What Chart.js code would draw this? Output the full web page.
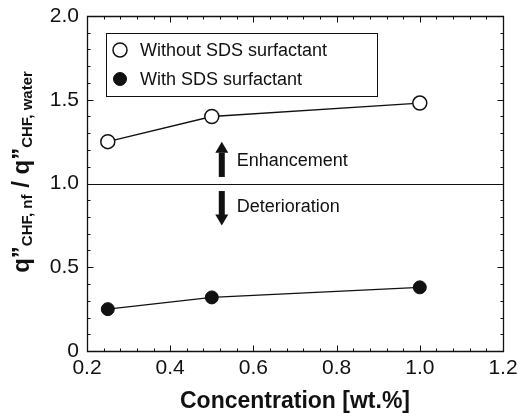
<!DOCTYPE html>
<html>
<head>
<meta charset="utf-8">
<script src="https://cdn.jsdelivr.net/npm/chart.js@4.4.1/dist/chart.umd.min.js"></script>
<style>
  html, body { margin: 0; padding: 0; background: #fff; }
  #wrap { width: 519px; height: 413px; }
</style>
</head>
<body>
<div id="wrap"><canvas id="chfChart" width="519" height="413"></canvas></div>
<script>
// concentration [wt.%]
const concentration = [0.25, 0.5, 1.0];
// CHF ratio relative to pure water
const withoutSDS = [1.25, 1.40, 1.48];
const withSDS = [0.25, 0.32, 0.38];

const xTicks = [0.2, 0.4, 0.6, 0.8, 1.0, 1.2];
const yTicks = [0, 0.5, 1.0, 1.5, 2.0];

const FONT = 'Liberation Sans, Arial, Helvetica, sans-serif';

function toPoints(xs, ys) {
    return xs.map((x, i) => ({ x: x, y: ys[i] }));
}

// frame, inward ticks, reference line, arrows, legend and axis titles
const decorations = {
    id: 'decorations',
    afterDraw(chart) {
        const c = chart.ctx;
        const a = chart.chartArea;
        const xs = chart.scales.x;
        const ys = chart.scales.y;
        const L = Math.round(a.left) + 0.5, R = Math.round(a.right) + 0.5;
        const T = Math.round(a.top) + 0.5, B = Math.round(a.bottom) + 0.5;
        c.save();
        c.globalAlpha = 1;
        c.setLineDash([]);
        c.strokeStyle = '#111111';
        c.lineWidth = 1.3;
        c.beginPath();
        c.moveTo(L, T); c.lineTo(R, T); c.lineTo(R, B); c.lineTo(L, B); c.closePath();
        c.stroke();

        // ticks on all four sides
        c.lineWidth = 1;
        c.beginPath();
        for (let i = 0; i <= 25; i++) {
            const v = 0.2 + i * 0.04;
            const px = Math.round(xs.getPixelForValue(v)) + 0.5;
            const len = (i % 5 === 0) ? 6 : 3;
            c.moveTo(px, B); c.lineTo(px, B - len);
            c.moveTo(px, T); c.lineTo(px, T + len);
        }
        for (let i = 0; i <= 20; i++) {
            const v = i * 0.1;
            const py = Math.round(ys.getPixelForValue(v)) + 0.5;
            const len = (i % 5 === 0) ? 6 : 3;
            c.moveTo(L, py); c.lineTo(L + len, py);
            c.moveTo(R, py); c.lineTo(R - len, py);
        }
        c.stroke();

        // ratio = 1 line
        const y1 = Math.round(ys.getPixelForValue(1.0)) + 0.5;
        c.beginPath();
        c.moveTo(L, y1); c.lineTo(R, y1);
        c.stroke();

        // arrows
        function arrow(x, yFrom, yTo) {
            const px = xs.getPixelForValue(x);
            const p0 = ys.getPixelForValue(yFrom);
            const p1 = ys.getPixelForValue(yTo);
            const dir = p1 < p0 ? -1 : 1;
            const head = 11;
            const hb = p1 - dir * head;
            c.fillStyle = '#111';
            c.fillRect(px - 3, Math.min(p0, hb), 6, Math.abs(hb - p0) + 1);
            c.beginPath();
            c.moveTo(px - 6.5, hb);
            c.lineTo(px + 6.5, hb);
            c.lineTo(px, p1);
            c.closePath();
            c.fill();
        }
        arrow(0.524, 1.045, 1.25);
        arrow(0.524, 0.955, 0.75);
        c.fillStyle = '#111';
        c.font = '18px ' + FONT;
        c.textAlign = 'left';
        c.textBaseline = 'middle';
        c.fillText('Enhancement', xs.getPixelForValue(0.56), ys.getPixelForValue(1.135));
        c.fillText('Deterioration', xs.getPixelForValue(0.56), ys.getPixelForValue(0.86));

        // legend box
        const lx = 106, ly = 33, lw = 271, lh = 63;
        c.fillStyle = '#fff';
        c.fillRect(lx, ly, lw, lh);
        c.strokeStyle = '#111';
        c.lineWidth = 1;
        c.strokeRect(lx + 0.5, ly + 0.5, lw, lh);
        chart.data.datasets.forEach((ds, i) => {
            const cy = ly + 17 + i * 29;
            c.beginPath();
            c.arc(lx + 14, cy, ds.pointRadius, 0, Math.PI * 2);
            c.fillStyle = ds.pointBackgroundColor;
            c.fill();
            c.lineWidth = ds.pointBorderWidth;
            c.strokeStyle = ds.pointBorderColor;
            c.stroke();
            c.fillStyle = '#111';
            c.font = '18px ' + FONT;
            c.fillText(ds.label, lx + 34, cy + 1);
        });

        // x title
        c.font = 'bold 23px ' + FONT;
        c.textAlign = 'center';
        c.textBaseline = 'middle';
        c.fillText('Concentration [wt.%]', (a.left + a.right) / 2, 402);

        // y title with subscripts, rotated
        const parts = [
            ['q\u201D', 'bold 24px ' + FONT, 0],
            ['CHF, nf', 'bold 15px ' + FONT, 6],
            [' / q\u201D', 'bold 24px ' + FONT, 0],
            ['CHF, water', 'bold 15px ' + FONT, 6]
        ];
        let total = 0;
        parts.forEach(p => { c.font = p[1]; total += c.measureText(p[0]).width; });
        c.translate(22, 172);
        c.rotate(-Math.PI / 2);
        c.textAlign = 'left';
        c.textBaseline = 'middle';
        let x = -total / 2;
        parts.forEach(p => {
            c.font = p[1];
            c.fillText(p[0], x, p[2]);
            x += c.measureText(p[0]).width;
        });
        c.restore();
    }
};

new Chart(document.getElementById('chfChart'), {
    type: 'line',
    data: {
        datasets: [
            {
                label: 'Without SDS surfactant',
                data: toPoints(concentration, withoutSDS),
                borderColor: '#111',
                borderWidth: 1.3,
                pointRadius: 7,
                pointBackgroundColor: '#fff',
                pointBorderColor: '#111',
                pointBorderWidth: 1.5,
                tension: 0
            },
            {
                label: 'With SDS surfactant',
                data: toPoints(concentration, withSDS),
                borderColor: '#111',
                borderWidth: 1.3,
                pointRadius: 6.5,
                pointBackgroundColor: '#111',
                pointBorderColor: '#111',
                pointBorderWidth: 1,
                tension: 0
            }
        ]
    },
    options: {
        responsive: false,
        animation: false,
        layout: { padding: { left: 0, top: 16, right: 16, bottom: 0 } },
        plugins: { legend: { display: false }, tooltip: { enabled: false } },
        scales: {
            x: {
                type: 'linear',
                min: 0.2,
                max: 1.2,
                afterBuildTicks: scale => { scale.ticks = xTicks.map(v => ({ value: v })); },
                afterFit: scale => {
                    scale.height = 62;
                    scale.paddingLeft = 0;
                    scale.paddingRight = 0;
                },
                grid: { display: false, drawTicks: false },
                border: { display: false },
                ticks: {
                    color: '#111',
                    padding: 5,
                    maxRotation: 0,
                    font: { family: FONT, size: 21 },
                    callback: v => v.toFixed(1)
                }
            },
            y: {
                type: 'linear',
                min: 0,
                max: 2,
                afterBuildTicks: scale => { scale.ticks = yTicks.map(v => ({ value: v })); },
                afterFit: scale => {
                    scale.width = 87;
                    scale.paddingTop = 0;
                    scale.paddingBottom = 0;
                },
                grid: { display: false, drawTicks: false },
                border: { display: false },
                ticks: {
                    color: '#111',
                    padding: 8,
                    font: { family: FONT, size: 21 },
                    callback: v => v === 0 ? '0' : v.toFixed(1)
                }
            }
        }
    },
    plugins: [decorations]
});
</script>
</body>
</html>
